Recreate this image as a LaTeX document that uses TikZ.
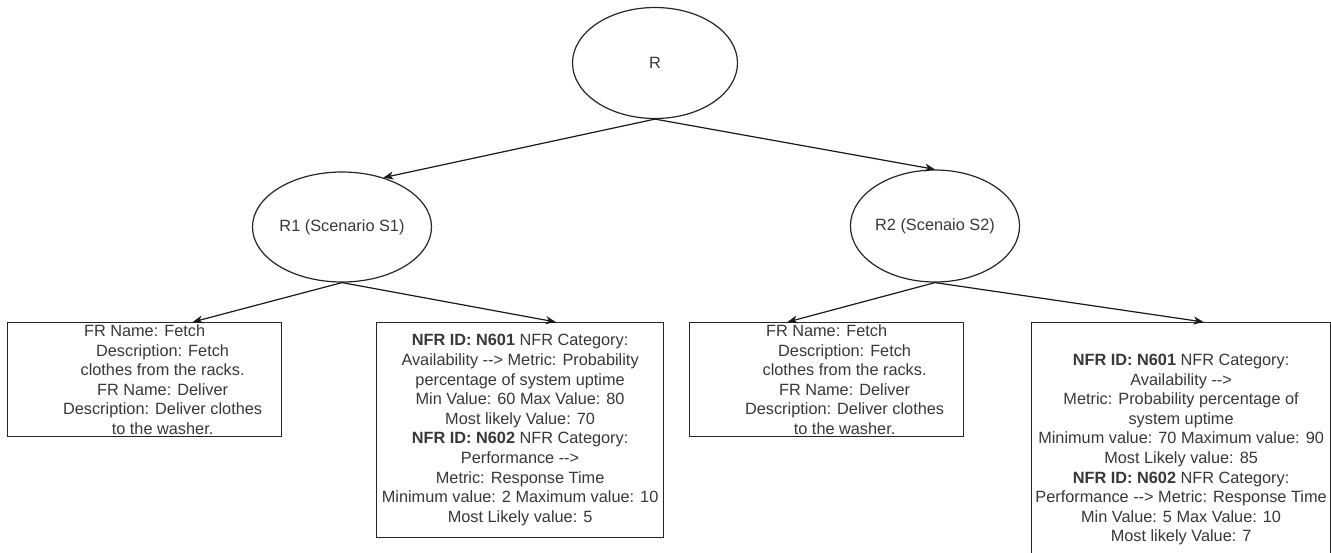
\documentclass[tikz,border=0pt]{standalone}
\usepackage{fontspec}
\setmainfont{Liberation Sans}
\usetikzlibrary{shapes.geometric,arrows.meta,calc}
\newcommand\diagfont{\fontsize{16.3pt}{19.6pt}\selectfont}
\newcommand\sh{\hspace*{36pt}}
\begin{document}
\begin{tikzpicture}[x=1pt,y=-1pt,
  ell/.style={ellipse, draw=black!85, line width=1.2pt, inner sep=0pt, font=\diagfont, text=black!78},
  box/.style={rectangle, draw=black!85, line width=1.2pt, inner sep=0pt, align=center, font=\diagfont, text=black!78, anchor=north west},
  arr/.style={-{Stealth[length=10pt,width=8pt,inset=3pt]}, line width=1.2pt, draw=black!90}]
\useasboundingbox (0,0) rectangle (1331,552);
\clip (0,0) rectangle (1331,552);
\fill[white] (0,0) rectangle (1331,552);

\node[ell, minimum width=165pt, minimum height=111pt] (R) at (655,63) {R};
\node[ell, minimum width=179pt, minimum height=110pt] (R1) at (342,227) {R1 (Scenario S1)};
\node[ell, minimum width=165pt, minimum height=112pt] (R2) at (935,226) {R2 (Scenaio S2)};

\node[box, minimum width=274pt, minimum height=114pt] (b1) at (7,322)
 {FR Name: Fetch\\ \sh Description: Fetch\\ \sh clothes from the racks.\\ \sh FR Name: Deliver\\ \sh Description: Deliver clothes\\ \sh to the washer.};

\node[box, minimum width=287pt, minimum height=215pt] (b2) at (376,322)
 {\textbf{NFR ID: N601} NFR Category:\\
  Availability -{}-> Metric: Probability\\
  percentage of system uptime\\
  Min Value: 60 Max Value: 80\\
  Most likely Value: 70\\
  \textbf{NFR ID: N602} NFR Category:\\
  Performance -{}->\\
  Metric: Response Time\\
  Minimum value: 2 Maximum value: 10\\
  Most Likely value: 5};

\node[box, minimum width=274pt, minimum height=114pt] (b3) at (689,322)
 {FR Name: Fetch\\ \sh Description: Fetch\\ \sh clothes from the racks.\\ \sh FR Name: Deliver\\ \sh Description: Deliver clothes\\ \sh to the washer.};

\node[box, minimum width=299pt, minimum height=254pt] (b4) at (1031,322)
 {\textbf{NFR ID: N601} NFR Category:\\
  Availability -{}->\\
  Metric: Probability percentage of\\
  system uptime\\
  Minimum value: 70 Maximum value: 90\\
  Most Likely value: 85\\
  \textbf{NFR ID: N602} NFR Category:\\
  Performance -{}-> Metric: Response Time\\
  Min Value: 5 Max Value: 10\\
  Most likely Value: 7};

\draw[arr] (R.south) -- (R1.50);
\draw[arr] (R.south) -- (R2.north);
\draw[arr] (R1.south) -- ($(b1.north west)!0.675!(b1.north east)$);
\draw[arr] (R1.south) -- ($(b2.north west)!0.624!(b2.north east)$);
\draw[arr] (R2.south) -- ($(b3.north west)!0.358!(b3.north east)$);
\draw[arr] (R2.south) -- ($(b4.north west)!0.575!(b4.north east)$);
\end{tikzpicture}
\end{document}
